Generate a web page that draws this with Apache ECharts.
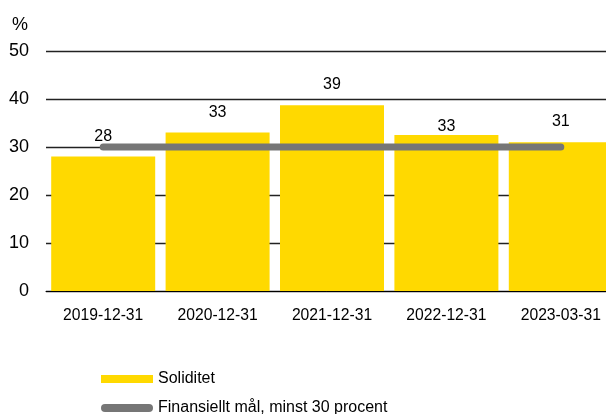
<!DOCTYPE html>
<html>
<head>
<meta charset="utf-8">
<script src="https://cdn.jsdelivr.net/npm/echarts@6/dist/echarts.min.js"></script>
<style>html,body{margin:0;padding:0;background:#fff}#c{width:606px;height:414px}</style>
</head>
<body>
<div id="c"></div>
<script>
var categories = ['2019-12-31', '2020-12-31', '2021-12-31', '2022-12-31', '2023-03-31'];
var soliditet = [28.0, 33.0, 38.7, 32.5, 31.0];
var target = [30, 30, 30, 30, 30];
var yTicks = [0, 10, 20, 30, 40, 50];
var labelDistances = [12, 12, 13, 0, 13];

var FONT = '"Liberation Sans", Arial, sans-serif';
var chart = echarts.init(document.getElementById('c'), null, {renderer: 'canvas'});
chart.setOption({
  animation: false,
  textStyle: {fontFamily: FONT},
  grid: {left: 46, top: 51, right: -12, height: 240, containLabel: false, outerBoundsMode: 'none'},
  legend: {
    orient: 'vertical',
    left: 101,
    top: 371,
    height: 80,
    padding: 0,
    itemWidth: 52,
    itemHeight: 8,
    itemGap: 13,
    textStyle: {fontFamily: FONT, fontSize: 16, color: '#000'},
    data: [
      {name: 'Soliditet', icon: 'rect'},
      {name: 'Finansiellt mål, minst 30 procent',
       icon: 'path://M4,0 L48,0 A4,4 0 0 1 48,8 L4,8 A4,4 0 0 1 4,0 Z',
       itemStyle: {color: '#767676'}}
    ]
  },
  xAxis: {
    type: 'category',
    data: categories,
    axisLine: {lineStyle: {color: '#000', width: 1}},
    axisTick: {show: false},
    axisLabel: {color: '#000', fontSize: 15.7, fontFamily: FONT, margin: 17, interval: 0}
  },
  yAxis: {
    type: 'value',
    min: yTicks[0],
    max: yTicks[yTicks.length - 1],
    interval: 10,
    name: '%',
    nameLocation: 'end',
    nameGap: 17,
    nameTextStyle: {color: '#000', fontSize: 18, fontFamily: FONT, align: 'right', padding: [0, 18, 0, 0]},
    axisLine: {show: false},
    axisTick: {show: false},
    axisLabel: {color: '#000', fontSize: 18, fontFamily: FONT, margin: 17},
    splitLine: {lineStyle: {color: '#222', width: 1.3}}
  },
  series: [
    {
      name: 'Soliditet',
      type: 'bar',
      barWidth: 104,
      itemStyle: {color: '#FFD900'},
      data: soliditet.map(function (v, i) {
        return {value: v, label: {distance: labelDistances[i]}};
      }),
      label: {
        show: true,
        position: 'top',
        color: '#000',
        fontSize: 16,
        fontFamily: FONT,
        formatter: function (p) { return Math.round(p.value); }
      },
      z: 2
    },
    {
      name: 'Finansiellt mål, minst 30 procent',
      type: 'line',
      data: target,
      symbol: 'none',
      itemStyle: {color: '#767676'},
      lineStyle: {color: '#767676', width: 7, cap: 'round'},
      z: 3
    }
  ]
});
</script>
</body>
</html>
